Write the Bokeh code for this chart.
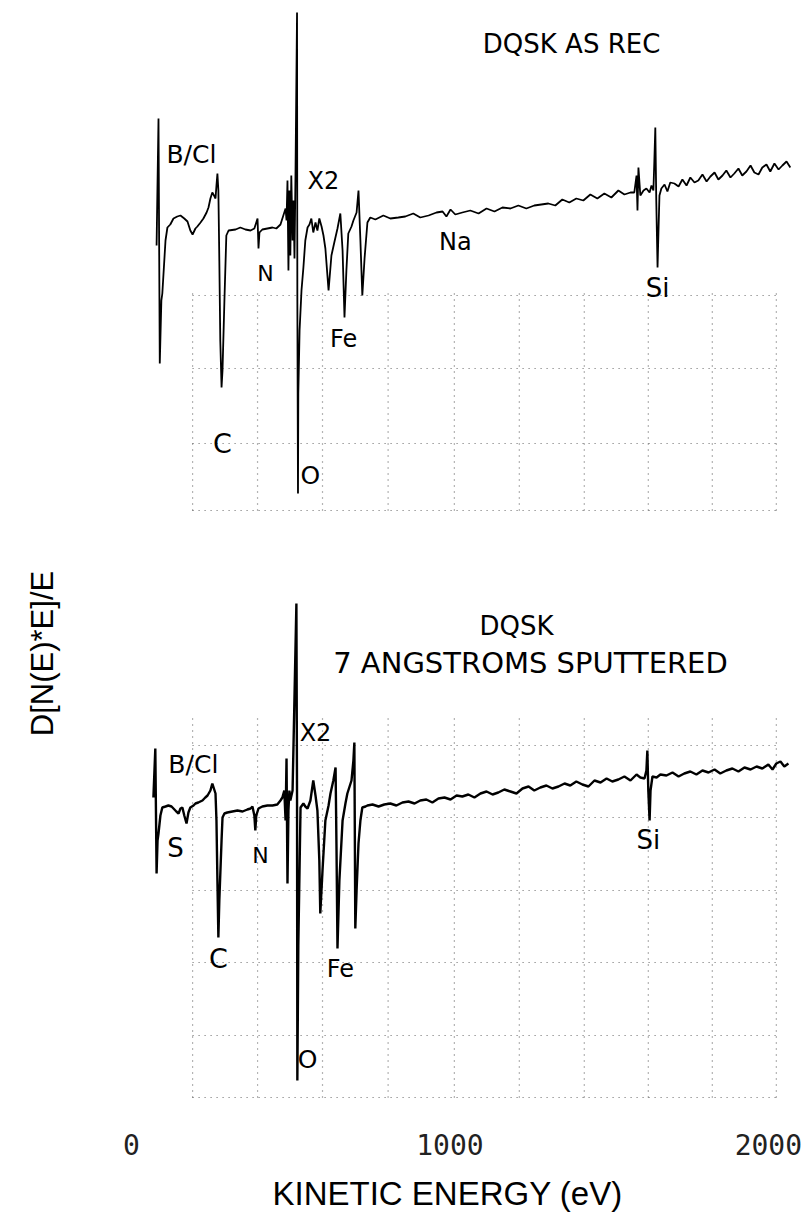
import math
from bokeh.plotting import figure
from bokeh.models import FixedTicker, ColumnDataSource, Title
from bokeh.core.properties import value
from bokeh.embed import file_html
from bokeh.resources import INLINE

# ---------------- data ----------------
# Upper spectrum: "DQSK AS REC" -- kinetic energy (eV) vs d[N(E)*E]/E (arb. units)
top_energy = [79, 85, 89, 94, 97, 107, 113, 122, 132, 144, 154, 166, 176, 185, 192, 201, 207, 217,
              226, 236, 242, 248, 254, 261, 264, 267, 270, 273, 276, 279, 283, 286, 292, 298, 305,
              327, 342, 358, 374, 386, 392, 396, 399, 402, 411, 427, 443, 455, 468, 477, 484, 487,
              490, 493, 496, 499, 502, 506, 509, 512, 515, 520, 521, 523, 524, 528, 534, 540, 546,
              553, 559, 565, 571, 578, 584, 590, 597, 603, 609, 619, 628, 637, 647, 656, 663, 669,
              675, 681, 691, 697, 707, 713, 719, 725, 732, 741, 750,
              766, 791, 813, 838, 860, 885, 907, 933, 958, 977, 989, 1002, 1017, 1039, 1064, 1090,
              1115, 1140, 1165, 1190, 1215, 1240, 1265, 1287, 1309, 1331, 1353, 1375, 1397, 1419,
              1441, 1463, 1485, 1507, 1529, 1548, 1567, 1579, 1586, 1589, 1592, 1598, 1608, 1617,
              1627, 1633, 1639, 1642, 1645, 1648, 1652, 1655, 1658, 1664, 1674, 1683, 1692, 1705,
              1718, 1730, 1743, 1755, 1768, 1780, 1793, 1806, 1818, 1831, 1843, 1856, 1868, 1881,
              1893, 1906, 1918, 1931, 1944, 1956, 1969, 1981, 1994, 2006, 2019, 2032, 2044, 2057, 2069]
top_signal = [123, 250, 5, 68, 75, 128, 141, 144, 150, 152, 153, 150, 147, 138, 134, 140, 142, 146,
              150, 156, 161, 170, 176, 172, 170, 183, 195, 178, 108, 28, -19, -2, 68, 133, 138,
              139, 141, 139, 138, 140, 146, 150, 120, 136, 139, 140, 141, 140, 144, 153, 160, 148,
              188, 98, 178, 113, 193, 128, 168, 110, 190, 356, 68, -125, -25, 38, 78, 101, 128,
              141, 144, 150, 136, 146, 138, 150, 142, 133, 120, 78, 113, 126, 140, 155, 118, 51,
              98, 135, 142, 148, 156, 178, 128, 73, 110, 146, 151,
              149, 153, 150, 151, 152, 155, 151, 153, 156, 157, 152, 159, 154, 156, 158, 155,
              160, 157, 161, 160, 163, 160, 163, 164, 165, 163, 169, 166, 170, 168,
              174, 170, 175, 171, 178, 174, 176, 176, 193, 158, 201, 173, 178, 180,
              176, 183, 178, 208, 241, 168, 101, 138, 173, 180, 184, 177, 186, 185,
              182, 189, 183, 191, 186, 188, 194, 187, 192, 196, 189, 193, 198, 191,
              195, 200, 193, 197, 203, 196, 194, 201, 204, 197, 205, 199, 203, 207, 201]

# Lower spectrum: "DQSK 7 ANGSTROMS SPUTTERED"
bot_energy = [69, 75, 79, 82, 85, 91, 97, 107, 116, 126, 132, 141, 148, 154, 160, 166, 173, 179,
              185, 195, 201, 210, 223, 232, 239, 248, 254, 261, 264, 267, 270, 273, 276, 283, 286,
              292, 301, 317, 333, 349, 364, 374, 380, 386, 389, 392, 399, 411, 427, 443, 458, 468,
              474, 480, 484, 487, 490, 493, 496, 499, 506, 518, 520, 521, 524, 531, 540, 546, 553,
              562, 571, 578, 584, 590, 593, 600, 609, 619, 625, 634, 641, 644, 647, 653, 663, 672,
              678, 691, 697, 700, 703, 707, 713, 719, 725, 735, 741, 757, 776, 794, 813, 832, 851,
              870, 889, 907, 926, 945, 964, 983, 1002, 1021, 1039, 1058, 1077, 1096, 1115, 1134,
              1152, 1171, 1190, 1209, 1228, 1247, 1265, 1284, 1303, 1322, 1341, 1360, 1378, 1397,
              1416, 1435, 1454, 1473, 1492, 1510, 1529, 1548, 1567, 1586, 1598, 1611, 1617, 1620,
              1623, 1627, 1630, 1636, 1649, 1661, 1680, 1699, 1718, 1736, 1755, 1774, 1793, 1812,
              1831, 1849, 1868, 1887, 1906, 1925, 1944, 1963, 1981, 2000, 2013, 2025, 2038, 2050, 2063]
bot_signal = [93, 142, 17, 50, 57, 75, 83, 84, 85, 84, 82, 79, 77, 82, 83, 75, 67, 78,
              83, 85, 87, 88, 90, 93, 95, 100, 107, 100, 97, 70, 10, -47, -10, 50, 73,
              77, 78, 79, 80, 79, 81, 82, 84, 75, 60, 75, 82, 84, 85, 85, 86, 90,
              93, 100, 70, 132, 7, 80, 100, 90, 100, 287, 90, -190, -55, 83, 87, 84, 82,
              90, 110, 95, 80, 30, -23, 20, 70, 85, 97, 110, 123, 40, -58, 10, 70, 87,
              97, 110, 130, 148, -38, 0, 47, 70, 83, 84, 85, 86, 84, 86, 87, 85, 88,
              89, 87, 90, 91, 88, 92, 93, 91, 95, 94, 96, 93, 97, 99, 96,
              98, 101, 99, 97, 102, 104, 100, 103, 105, 102, 104, 107, 105, 109,
              106, 104, 110, 108, 112, 109, 111, 114, 110, 116, 113, 112, 120, 140,
              100, 70, 100, 114, 113, 116, 115, 118, 114, 117, 119, 116, 120, 118,
              121, 117, 120, 122, 119, 123, 121, 124, 122, 126, 121, 127, 129, 124, 127]

x_ticks = [0, 1000, 2000]
x_tick_labels = {0: "0", 1000: "1000", 2000: "2000"}
x_title = "KINETIC ENERGY (eV)"
y_title = "D[N(E)*E]/E"
grid_energy = [192, 396, 600, 806, 1014, 1218, 1422, 1623, 1824, 2025]
top_grid_levels = [73, 0, -75, -142]
bot_grid_levels = [145, 73, 0, -72, -145, -207]

top_label_text = ["DQSK AS REC", "X2", "N", "C", "O", "Fe", "Na", "Si"]
bot_label_text = ["DQSK", "7 ANGSTROMS SPUTTERED", "S", "N", "X2", "C", "Fe", "O", "Si"]

# ---------------- layout constants ----------------
TOP_OFF = 740
BOT_OFF = 218

p = figure(frame_width=800, frame_height=1096, output_backend="svg", toolbar_location=None,
           x_range=(-386, 2126), y_range=(4, 1100), y_axis_location=None,
           min_border_left=8, min_border_right=0, min_border_top=8, min_border_bottom=0)
p.grid.visible = False
p.outline_line_color = None
p.background_fill_color = "white"
p.border_fill_color = "white"

# dotted plotter grid
gx0, gy0, gx1, gy1 = [], [], [], []
for e in grid_energy:
    gx0.append(e); gx1.append(e); gy0.append(TOP_OFF - 142); gy1.append(TOP_OFF + 78)
    gx0.append(e); gx1.append(e); gy0.append(BOT_OFF - 207); gy1.append(BOT_OFF + 177)
for lv in top_grid_levels:
    gx0.append(grid_energy[0]); gx1.append(grid_energy[-1]); gy0.append(TOP_OFF + lv); gy1.append(TOP_OFF + lv)
for lv in bot_grid_levels:
    gx0.append(grid_energy[0]); gx1.append(grid_energy[-1]); gy0.append(BOT_OFF + lv); gy1.append(BOT_OFF + lv)
p.segment(x0=gx0, y0=gy0, x1=gx1, y1=gy1, line_color="#444444", line_width=1.2,
          line_dash="1 5", line_alpha=0.8)

# spectra
p.line(top_energy, [TOP_OFF + v for v in top_signal], line_color="black", line_width=1.8)
p.line(bot_energy, [BOT_OFF + v for v in bot_signal], line_color="black", line_width=2.4)

# annotations
FONT = value("DejaVu Sans")
top_lx = [1382, 603, 421, 286, 562, 666, 1017, 1652]
top_lv = [325, 188, 95, -75, -107, 30, 127, 81]
top_sizes = ["26px", "24px", "22px", "27px", "25px", "24px", "24px", "26px"]
src_t = ColumnDataSource(dict(x=top_lx, y=[TOP_OFF + v for v in top_lv], text=top_label_text, size=top_sizes))
p.text(x="x", y="y", text="text", source=src_t, text_font=FONT, text_font_size="size",
       text_align="center", text_baseline="middle", text_color="black")

bot_lx = [1209, 1253, 138, 405, 578, 273, 656, 553, 1623]
bot_lv = [265, 228, 43, 35, 158, -68, -78, -169, 51]
bot_sizes = ["26px", "29px", "26px", "22px", "24px", "27px", "24px", "25px", "26px"]
src_b = ColumnDataSource(dict(x=bot_lx, y=[BOT_OFF + v for v in bot_lv], text=bot_label_text, size=bot_sizes))
p.text(x="x", y="y", text="text", source=src_b, text_font=FONT, text_font_size="size",
       text_align="center", text_baseline="middle", text_color="black")

# B/Cl labels (left aligned)
p.text(x=[110, 116], y=[TOP_OFF + 214, BOT_OFF + 126], text=["B/Cl", "B/Cl"], text_font=FONT,
       text_font_size="25px", text_align="left", text_baseline="middle", text_color="black")

# y axis title (vertical)
p.text(x=[-279], y=[455], text=[y_title], angle=math.pi / 2,
       text_font=value("Liberation Sans"), text_font_size="31px",
       text_align="center", text_baseline="middle", text_color="black")

# x axis (tick labels)
ax = p.xaxis[0]
ax.ticker = FixedTicker(ticks=x_ticks)
ax.major_label_overrides = x_tick_labels
ax.axis_line_color = None
ax.major_tick_line_color = None
ax.minor_tick_line_color = None
ax.major_label_standoff = 23
ax.major_label_text_font = "DejaVu Sans Mono"
ax.major_label_text_font_size = "28px"
ax.major_label_text_color = "#222222"

# x axis title below the tick labels, roughly centred under 1000 eV as in the original plot
p.add_layout(Title(text=x_title, align="left", offset=264, standoff=30,
                   text_font="Liberation Sans", text_font_size="33px",
                   text_font_style="normal", text_color="black"), "below")

open("out.html", "w").write(file_html(p, INLINE))
